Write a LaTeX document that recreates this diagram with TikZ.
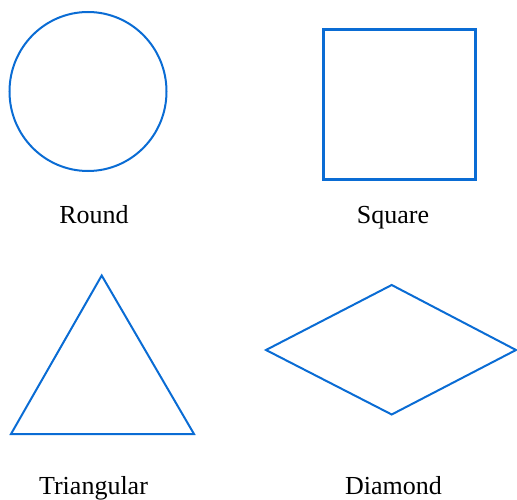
\documentclass[tikz,border=0pt]{standalone}
\usepackage{fontspec}
\setmainfont{Liberation Serif}
\definecolor{shapeblue}{RGB}{10,108,212}
\begin{document}
\begin{tikzpicture}[x=1pt,y=-1pt,
  outline/.style={draw=shapeblue,line width=2pt,line join=miter},
  lbl/.style={anchor=base,inner sep=0pt,font=\fontsize{26}{30}\selectfont}]
\useasboundingbox (0,0) rectangle (517,500);
% Round
\draw[outline] (88,91.5) ellipse [x radius=78.5, y radius=79.5];
% Square
\draw[outline,line width=3pt] (323.5,29.5) rectangle (475.5,179.5);
% Triangular
\draw[outline] (101.7,275.5) -- (194,434) -- (11,434) -- cycle;
% Diamond
\draw[outline] (266,350) -- (391.7,285) -- (516,350) -- (391.7,414.5) -- cycle;
% labels
\node[lbl] (round) at (94,223) {Round};
\node[lbl] (square) at (393,223) {Square};
\node[lbl] (tri) at (93.5,494) {Triangular};
\node[lbl] (dia) at (393.5,494) {Diamond};
\end{tikzpicture}
\end{document}
